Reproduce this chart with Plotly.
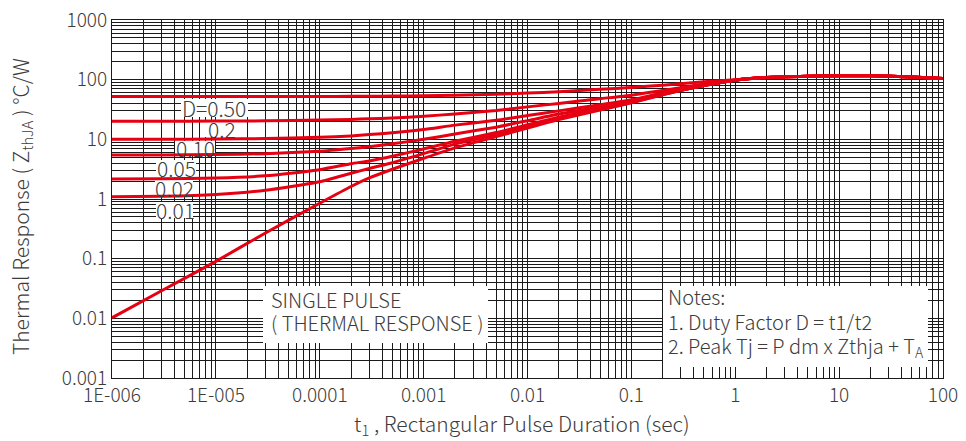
import plotly.graph_objects as go

# ---- data ----
t = [1e-6, 3e-6, 1e-5, 3e-5, 1e-4, 2e-4, 3e-4, 5e-4, 1e-3, 2e-3, 5e-3, 1e-2, 2e-2,
     5e-2, 0.1, 0.2, 0.5, 1, 2, 5, 10, 20, 50, 100]

z_d050 = [52, 52, 52, 52, 52.3, 52.6, 52.8, 53, 54, 55, 57, 59.5, 63,
          69, 74, 81, 92, 100, 109, 114, 116, 116, 111, 105]
z_d020 = [20.1, 20.1, 20.2, 20.4, 21.0, 21.6, 22.1, 22.8, 24.3, 26.7, 30.5, 35, 40,
          48, 55, 66, 85, 99, 109, 114, 116, 116, 111, 105]
z_d010 = [10.0, 10.0, 10.1, 10.3, 10.8, 11.4, 12.0, 12.9, 14.6, 17.3, 20.8, 25, 30,
          38, 46, 60, 81, 98, 109, 114, 116, 116, 111, 105]
z_d005 = [5.45, 5.47, 5.55, 5.75, 6.3, 7.0, 7.5, 8.4, 10.0, 12.3, 16, 20.5, 26.5,
          35, 44, 58, 80, 98, 109, 114, 116, 116, 111, 105]
z_d002 = [2.16, 2.18, 2.25, 2.45, 3.1, 3.9, 4.35, 5.2, 6.9, 9.3, 13, 17.5, 23.5,
          33, 42, 57, 80, 98, 109, 114, 116, 116, 111, 105]
z_d001 = [1.09, 1.11, 1.19, 1.4, 1.95, 2.7, 3.25, 4.05, 5.75, 8.3, 12, 16.5, 22.5,
          32, 41.5, 56.5, 80, 98, 109, 114, 116, 116, 111, 105]
z_single = [0.0102, 0.029, 0.09, 0.27, 0.85, 1.62, 2.25, 3.15, 4.8, 7.2, 11.1, 15.5, 21.5,
            31, 41, 56, 80, 98, 109, 114, 116, 116, 111, 105]

series = [("D=0.50", z_d050), ("0.2", z_d020), ("0.10", z_d010), ("0.05", z_d005),
          ("0.02", z_d002), ("0.01", z_d001), ("SINGLE PULSE", z_single)]

x_decades = [1e-6, 1e-5, 1e-4, 1e-3, 1e-2, 1e-1, 1, 10, 100]
x_labels = ["1E-006", "1E-005", "0.0001", "0.001", "0.01", "0.1", "1", "10", "100"]
y_decades = [1e-3, 1e-2, 1e-1, 1, 10, 100, 1000]
y_labels = ["0.001", "0.01", "0.1", "1", "10", "100", "1000"]

# ---- style ----
RED = "#e60012"
TXT = "#3c3c3c"
FONT = "Noto Sans CJK SC Light, Noto Sans CJK SC, Noto Sans, sans-serif"
W, H = 966, 441
L, R, T, B = 112, 23, 20, 63
PW, PH = W - L - R, H - T - B
XR, YR = (-6, 2), (-3, 3)


def px(xp):
    return (xp - L) / PW


def py(yp):
    return (H - B - yp) / PH


def dx(xp):  # pixel -> data (log axis)
    return 10 ** (XR[0] + px(xp) * (XR[1] - XR[0]))


def dy(yp):
    return 10 ** (YR[0] + py(yp) * (YR[1] - YR[0]))


def grid_vals(decades, labels):
    vals, texts = [], []
    for d, lab in zip(decades, labels):
        for m in range(1, 10):
            v = d * m
            if v > decades[-1] * 1.0001:
                break
            vals.append(v)
            texts.append(lab if m == 1 else "")
    return vals, texts


xv, xt = grid_vals(x_decades, x_labels)
yv, yt = grid_vals(y_decades, y_labels)

fig = go.Figure()

# white label backgrounds (under the curves, over the grid)
label_boxes = [(181, 248, 99, 117), (205, 245, 122, 137), (175, 215, 141, 155),
               (156, 196, 160, 177), (155, 193, 180, 197), (156, 193, 202, 218)]
for (x0, x1, y0, y1) in label_boxes:
    fig.add_trace(go.Scatter(x=[dx(x0), dx(x1), dx(x1), dx(x0), dx(x0)],
                             y=[dy(y0), dy(y0), dy(y1), dy(y1), dy(y0)],
                             mode="lines", fill="toself", fillcolor="white",
                             line=dict(width=0, color="white"),
                             showlegend=False, hoverinfo="skip"))

for name, z in series:
    fig.add_trace(go.Scatter(x=t, y=z, mode="lines", name=name,
                             line=dict(color=RED, width=3, shape="spline", smoothing=0.5),
                             showlegend=False, hoverinfo="skip"))

axis_common = dict(type="log", showgrid=True, gridcolor="#1a1a1a", gridwidth=1,
                   showline=True, linecolor="#1a1a1a", linewidth=1, mirror=True,
                   ticks="", zeroline=False, automargin=False,
                   tickfont=dict(family=FONT, size=19, color=TXT, weight=300))

fig.update_xaxes(**axis_common, range=list(XR), tickmode="array", tickvals=xv, ticktext=xt)
fig.update_yaxes(**axis_common, range=list(YR), tickmode="array", tickvals=yv, ticktext=yt)


def white_box(x0, x1, y0, y1):
    return dict(type="rect", xref="paper", yref="paper", x0=px(x0), x1=px(x1),
                y0=py(y1), y1=py(y0), fillcolor="white", line=dict(width=0), layer="above")


shapes = [white_box(263, 488, 286, 343), white_box(663, 928, 286, 367)]

ann = []


def add_text(text, xp, yp, size=20, xanchor="left"):
    ann.append(dict(text=text, xref="paper", yref="paper", x=px(xp), y=py(yp), xanchor=xanchor,
                    yanchor="middle", showarrow=False,
                    font=dict(family=FONT, size=size, color=TXT, weight=300)))


# curve labels
for label, (cx, cy) in zip(["D=0.50", "0.2", "0.10", "0.05", "0.02", "0.01"],
                           [(214, 108), (222, 129), (195, 148), (176, 168), (174, 188), (175, 210)]):
    add_text(label, cx, cy, size=21, xanchor="center")

add_text("SINGLE PULSE", 269, 299)
add_text("( THERMAL RESPONSE )", 269, 322)
add_text("Notes:", 666, 296)
add_text("1. Duty Factor D = t1/t2", 666, 321)
add_text("2. Peak Tj = P dm x Zthja + T<sub>A</sub>", 666, 346)

# axis titles
add_text("t<sub>1</sub> , Rectangular Pulse Duration (sec)", 522, 424, size=21, xanchor="center")
ann.append(dict(text="Thermal Response ( Z<sub>thJA</sub> ) °C/W", xref="paper", yref="paper",
                x=px(21), y=py(207), xanchor="center", yanchor="middle", showarrow=False,
                textangle=-90, font=dict(family=FONT, size=21, color=TXT, weight=300)))

fig.update_layout(width=W, height=H, margin=dict(l=L, r=R, t=T, b=B),
                  paper_bgcolor="white", plot_bgcolor="white",
                  shapes=shapes, annotations=ann)

fig.write_html("out.html", config={"displayModeBar": False},
               post_script="document.body.style.margin='0';document.body.style.overflow='hidden';")
